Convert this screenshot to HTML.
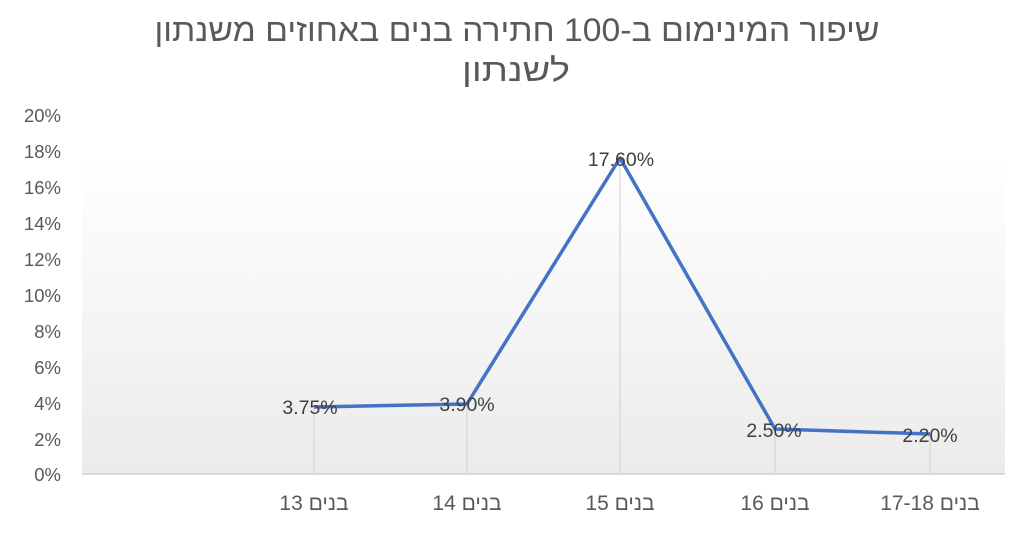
<!DOCTYPE html>
<html><head><meta charset="utf-8"><style>
body{margin:0;background:#fff;width:1024px;height:536px;overflow:hidden}
text{font-family:"Liberation Sans","DejaVu Sans",sans-serif}
</style></head><body>
<svg width="1024" height="536" viewBox="0 0 1024 536">
<defs><linearGradient id="g" x1="0" y1="0" x2="0" y2="1">
<stop offset="0" stop-color="#ffffff"/><stop offset="1" stop-color="#ebebeb"/></linearGradient></defs>
<rect x="82" y="157" width="923" height="317" fill="url(#g)"/>
<line x1="82" y1="474" x2="1005" y2="474" stroke="#d0d0d0" stroke-width="1.5"/>
<text x="517" y="41" font-size="32" fill="#595959" text-anchor="middle" direction="rtl" textLength="725" lengthAdjust="spacingAndGlyphs">שיפור המינימום ב-100 חתירה בנים באחוזים משנתון</text>
<text x="516" y="81" font-size="32" fill="#595959" text-anchor="middle" direction="rtl" textLength="108" lengthAdjust="spacingAndGlyphs">לשנתון</text>
<g font-size="18.5" fill="#595959" text-anchor="end">
<text x="61" y="122">20%</text><text x="61" y="158">18%</text><text x="61" y="194">16%</text>
<text x="61" y="230">14%</text><text x="61" y="266">12%</text><text x="61" y="302">10%</text>
<text x="61" y="338">8%</text><text x="61" y="374">6%</text><text x="61" y="410">4%</text>
<text x="61" y="446">2%</text><text x="61" y="481">0%</text>
</g>
<g stroke="#cfcfcf" stroke-width="1">
<line x1="314" y1="407" x2="314" y2="474"/><line x1="467" y1="404" x2="467" y2="474"/>
<line x1="620" y1="158" x2="620" y2="474"/><line x1="775" y1="429" x2="775" y2="474"/>
<line x1="930" y1="434" x2="930" y2="474"/>
</g>
<polyline points="314,407 467,404 620,158 775,429 930,434" fill="none" stroke="#4472c4" stroke-width="3.5" stroke-linejoin="round"/>
<g font-size="19.5" fill="#404040" text-anchor="middle">
<text x="310" y="414">3.75%</text><text x="467" y="411">3.90%</text>
<text x="621" y="166">17.60%</text><text x="774" y="437">2.50%</text><text x="930" y="442">2.20%</text>
</g>
<g font-size="21" fill="#595959" text-anchor="middle">
<text x="314" y="510" direction="rtl">בנים 13</text><text x="467" y="510" direction="rtl">בנים 14</text>
<text x="620" y="510" direction="rtl">בנים 15</text><text x="775" y="510" direction="rtl">בנים 16</text>
<text x="930" y="510" direction="rtl">בנים 17-18</text>
</g>
</svg>
</body></html>
